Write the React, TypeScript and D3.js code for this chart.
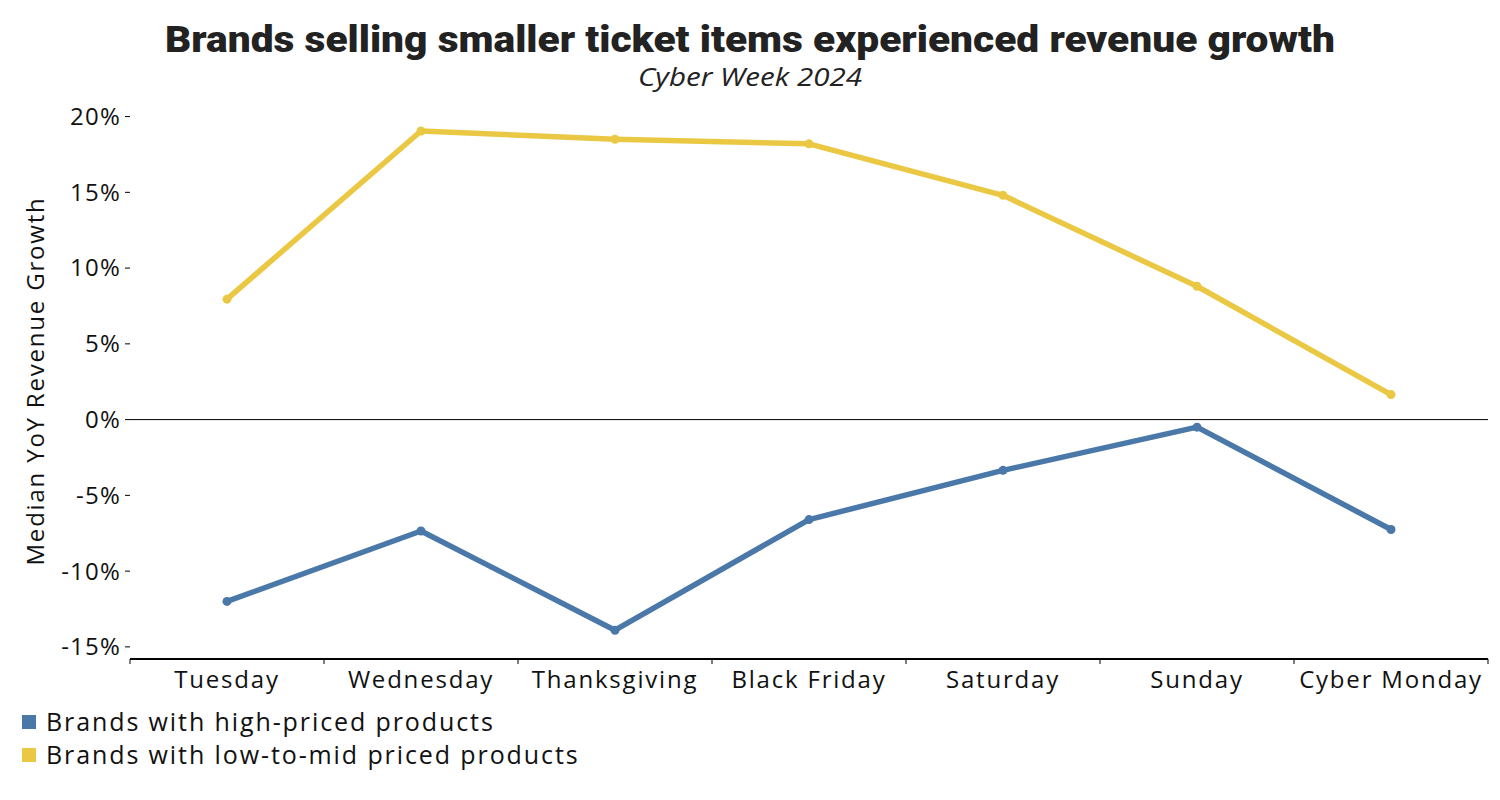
import React from "react";
import * as d3 from "d3";

const days = ["Tuesday", "Wednesday", "Thanksgiving", "Black Friday", "Saturday", "Sunday", "Cyber Monday"];
const highPriced = [-12.0, -7.35, -13.9, -6.6, -3.35, -0.5, -7.25];
const lowMidPriced = [7.95, 19.05, 18.5, 18.2, 14.8, 8.8, 1.65];
const yTicks = [-15, -10, -5, 0, 5, 10, 15, 20];
const seriesNames = ["Brands with high-priced products", "Brands with low-to-mid priced products"];
const seriesColors = ["#4a78a8", "#ebc843"];

const W = 1500, H = 800;
const left = 130, right = 1488, top = 109, bottom = 659;
const font = "'Open Sans', 'Noto Sans', sans-serif";
const fs = 24;
const ls = 1.8;

export default function App() {
  const x = d3.scaleBand<string>().domain(days).range([left, right]);
  const y = d3.scaleLinear().domain([-15.8, 20.5]).range([bottom, top]);
  const cx = (d: string) => (x(d) as number) + x.bandwidth() / 2;
  const line = d3.line<number>().x((_, i) => cx(days[i])).y((v) => y(v));
  const series = [highPriced, lowMidPriced];
  const bounds = days.map((d) => x(d) as number).concat([right]);

  return (
    <svg width={W} height={H} style={{ position: "absolute", left: 0, top: 0, background: "#fff" }}>
      <text x={165} y={52} textLength={1170} lengthAdjust="spacingAndGlyphs" fontFamily="Roboto, sans-serif" fontWeight={900} fontSize={37} fill="#222">
        Brands selling smaller ticket items experienced revenue growth
      </text>
      <text x={638} y={86} textLength={224} lengthAdjust="spacingAndGlyphs" fontFamily="'Open Sans', sans-serif" fontStyle="italic" fontSize={25} fill="#222">
        Cyber Week 2024
      </text>

      {yTicks.map((t) => (
        <g key={t}>
          <line x1={125} x2={130} y1={y(t)} y2={y(t)} stroke="#000" strokeWidth={1} />
          <text x={121} y={y(t)} dy="0.35em" textAnchor="end" fontFamily={font} fontSize={fs} letterSpacing={1.2} fill="#111">
            {`${t}%`}
          </text>
        </g>
      ))}
      <text transform={`translate(44, ${381}) rotate(-90)`} textAnchor="middle" fontFamily={font} fontSize={fs} letterSpacing={ls} fill="#111">
        Median YoY Revenue Growth
      </text>

      <line x1={left} x2={right} y1={y(0)} y2={y(0)} stroke="#000" strokeWidth={1} />

      <line x1={left} x2={right} y1={bottom} y2={bottom} stroke="#000" strokeWidth={2} />
      {bounds.map((b, i) => (
        <line key={i} x1={b} x2={b} y1={bottom} y2={bottom + 5} stroke="#000" strokeWidth={1} />
      ))}
      {days.map((d) => (
        <text key={d} x={cx(d)} y={bottom + 29} textAnchor="middle" fontFamily={font} fontSize={fs} letterSpacing={ls} fill="#111">
          {d}
        </text>
      ))}

      {series.map((s, si) => (
        <g key={si}>
          <path d={line(s) as string} fill="none" stroke={seriesColors[si]} strokeWidth={5.5} strokeLinejoin="round" />
          {s.map((v, i) => (
            <circle key={i} cx={cx(days[i])} cy={y(v)} r={4.5} fill={seriesColors[si]} />
          ))}
        </g>
      ))}

      {seriesNames.map((n, i) => (
        <g key={n}>
          <rect x={22} y={715 + i * 33} width={14} height={14} fill={seriesColors[i]} />
          <text x={46} y={722 + i * 33} dy="0.35em" fontFamily={font} fontSize={25} letterSpacing={1.9} fill="#111">
            {n}
          </text>
        </g>
      ))}
    </svg>
  );
}
